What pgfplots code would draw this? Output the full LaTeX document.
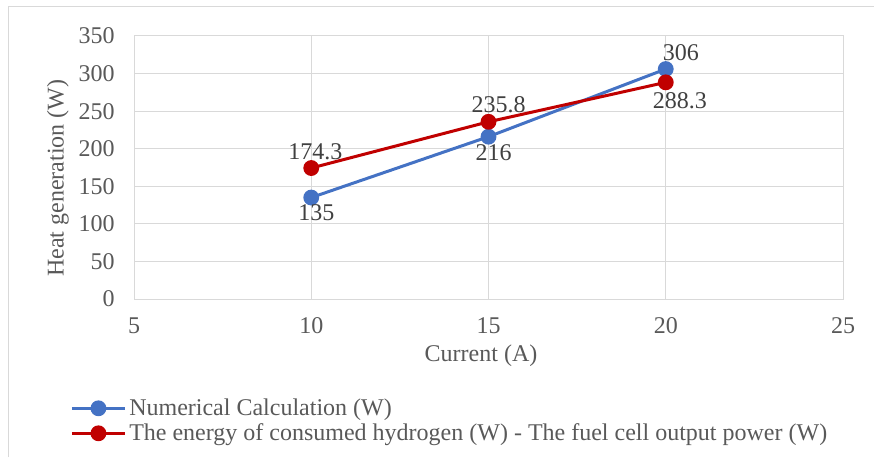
\documentclass[border=0pt]{standalone}
\usepackage{fontspec}
\setmainfont{Liberation Serif}
\usepackage{pgfplots}
\usepackage{pgfplotstable}
\pgfplotsset{compat=1.18}
\definecolor{cblue}{HTML}{4472C4}
\definecolor{cred}{HTML}{C00000}
\definecolor{cgrid}{HTML}{D9D9D9}
\definecolor{ctext}{HTML}{595959}
\definecolor{clab}{HTML}{404040}
\newcommand\chartfont{\fontsize{18}{21}\selectfont}

% x, y, label text, label offset (pt)
\pgfplotstableread{
x y lab dx dy
10 135 135 3.75 -11.25
15 216 216 3.75 -12
20 306 306 11.25 12
}\numcalc
\pgfplotstableread{
x y lab dx dy
10 174.3 174.3 3 12
15 235.8 235.8 7.5 12.75
20 288.3 288.3 10.5 -13.5
}\hydro

\pgfplotsset{
  lbl/.style={nodes near coords, point meta=explicit symbolic,
    visualization depends on={\thisrow{dx}\as\dx},
    visualization depends on={\thisrow{dy}\as\dy},
    nodes near coords style={anchor=center, xshift=\dx pt, yshift=\dy pt, font=\chartfont, text=clab}},
}

\begin{document}
\begin{tikzpicture}
\path[use as bounding box] (0,0) rectangle (655.5pt,342.75pt);
\draw[cgrid, line width=0.75pt] (6pt,0) -- (6pt,337.5pt) -- (655.5pt,337.5pt);
\begin{axis}[
  at={(100.5pt,118.5pt)}, anchor=south west,
  scale only axis, width=531.75pt, height=197.25pt,
  xmin=5, xmax=25, ymin=0, ymax=350,
  xtick={5,10,...,25}, ytick={0,50,...,350},
  grid=major, major grid style={cgrid, line width=0.75pt},
  axis line style={cgrid, line width=0.75pt},
  major tick length=0pt,
  /pgf/number format/assume math mode=true,
  tick label style={font=\chartfont, text=ctext},
  yticklabel style={xshift=-11pt},
  xticklabel style={yshift=-10.5pt},
  xlabel={Current (A)}, ylabel={Heat generation (W)},
  label style={font=\chartfont, text=ctext},
  xlabel style={at={([xshift=-5.6pt,yshift=-42.75pt]axis description cs:0.5,0)}, anchor=center},
  ylabel style={at={([xshift=-57pt,yshift=-7.9pt]axis description cs:0,0.5)}, anchor=center},
  legend cell align=left,
  legend style={at={([xshift=-48pt,yshift=-72.4pt]axis description cs:0,0)}, anchor=north west,
    draw=none, fill=none, inner sep=0pt, font=\chartfont, text=ctext, row sep=0pt,
    nodes={inner xsep=2pt, inner ysep=1pt, text height=13.5pt, text depth=3.25pt}},
  legend image code/.code={\draw[mark repeat=2,mark phase=2,#1] plot coordinates {(0pt,0pt) (20pt,0pt) (40pt,0pt)};},
  every axis plot/.append style={line width=2.25pt, mark=*, mark size=4.8pt, mark options={solid}},
]
\addplot[cblue, lbl] table[x=x, y=y, meta=lab] {\numcalc};
\addlegendentry{Numerical Calculation (W)}
\addplot[cred, lbl] table[x=x, y=y, meta=lab] {\hydro};
\addlegendentry{The energy of consumed hydrogen (W) - The fuel cell output power (W)}
\end{axis}
\end{tikzpicture}
\end{document}
